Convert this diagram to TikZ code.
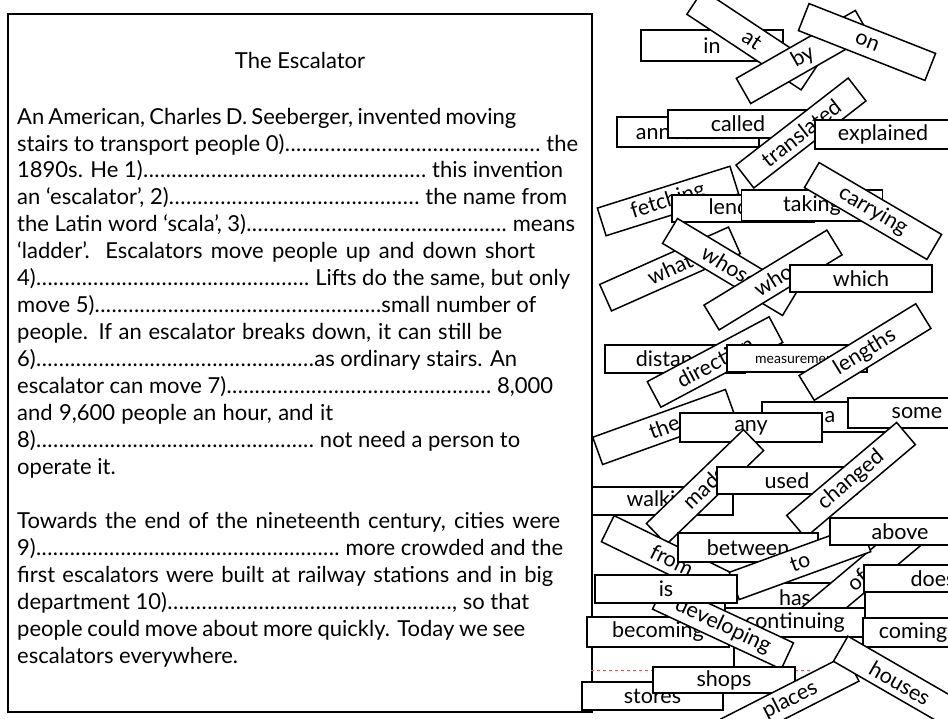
\documentclass[tikz,border=0pt]{standalone}
\usepackage{fontspec}
\setmainfont{Lato}
\newcommand\bodyfont{\fontsize{22}{26}\selectfont}
\newcommand\dts{\xleaders\hbox to 5.6pt{\hss.\hss}\hfill}
\newcommand\tline[4]{\node[anchor=base west, inner sep=0pt, font=\bodyfont] (#1) at (17,-#2) {\hbox to #3pt{#4}};}
\begin{document}
\begin{tikzpicture}[x=1pt,y=1pt,
  card/.style={draw=black, line width=1.5pt, fill=white, minimum width=140pt,
    minimum height=29pt, inner sep=0pt, font=\fontsize{21.5}{24}\selectfont}]
\useasboundingbox (0,0) rectangle (948,-718);
\fill[white] (0,0) rectangle (948,-718);
% text box
\draw[line width=1.5pt] (8,-14) rectangle (592,-712);
\node[font=\bodyfont, anchor=base] (title) at (300,-68) {The Escalator};
\tline{l1}{124}{499}{An American, Charles D. Seeberger, invented moving}
\tline{l2}{151}{561}{stairs to transport people 0)\dts\ the}
\tline{l3}{177.9}{546}{1890s. He 1)\dts\ this invention}
\tline{l4}{204.85}{550}{an ‘escalator’, 2)\dts\ the name from}
\tline{l5}{231.8}{558}{the Latin word ‘scala’, 3)\dts\ means}
\tline{l6}{258.75}{518}{‘ladder’. Escalators move people up and down short}
\tline{l7}{285.7}{553}{4)\dts\ Lifts do the same, but only}
\tline{l8}{312.65}{519}{move 5)\dts small number of}
\tline{l9}{339.6}{485}{people. If an escalator breaks down, it can still be}
\tline{l10}{366.55}{500}{6)\dts as ordinary stairs. An}
\tline{l11}{393.5}{536}{escalator can move 7)\dts\ 8,000}
\tline{l12}{420.45}{316}{and 9,600 people an hour, and it}
\tline{l13}{447.4}{503}{8)\dts\ not need a person to}
\node[anchor=base west, inner sep=0pt, font=\bodyfont] (l14) at (17,-474.35) {operate it.};
\tline{l15}{528.25}{543}{Towards the end of the nineteenth century, cities were}
\tline{l16}{555.2}{546}{9)\dts\ more crowded and the}
\tline{l17}{582.15}{536}{first escalators were built at railway stations and in big}
\tline{l18}{609.1}{512}{department 10)\dts, so that}
\tline{l19}{636.05}{508}{people could move about more quickly. Today we see}
\node[anchor=base west, inner sep=0pt, font=\bodyfont] (l20) at (17,-663) {escalators everywhere.};
% cards
\node[card, minimum width=142pt, minimum height=31pt] (c-in) at (712,-45.5) {in};
\node[card, rotate=-33.5, minimum width=137pt] (c-at) at (752,-40) {at};
\node[card, rotate=29.7, minimum width=137pt] (c-by) at (803,-57) {by};
\node[card, rotate=-21.5, minimum width=136pt] (c-on) at (867,-42) {on};
\node[card, minimum width=142pt, minimum height=30pt] (c-ann) at (688,-132) {announced};
\node[card, minimum height=28pt] (c-called) at (738,-124) {called};
\node[card, rotate=37.8, minimum width=142pt] (c-transl) at (801,-133) {translated};
\node[card, minimum width=136pt] (c-expl) at (883,-134.5) {explained};
\node[card, rotate=17.5, minimum width=139pt] (c-fetch) at (668,-201) {fetching};
\node[card, minimum width=142pt, minimum height=27pt] (c-lend) at (743,-208.5) {lending};
\node[card, minimum width=141pt, minimum height=31pt] (c-taking) at (812,-205.5) {taking};
\node[card, rotate=-30.4, minimum width=142pt] (c-carry) at (873,-211) {carrying};
\node[card, rotate=24, minimum width=141pt] (c-what) at (670,-269) {what};
\node[card, rotate=-31, minimum width=140pt] (c-whose) at (730,-267) {whose};
\node[card, rotate=31.4, minimum width=144pt] (c-who) at (773,-280) {who};
\node[card, minimum width=142pt, minimum height=27pt] (c-which) at (861,-278.5) {which};
\node[card, minimum height=28pt] (c-dist) at (675,-359) {distance};
\node[card, rotate=28, minimum width=138pt] (c-dir) at (715,-362) {direction};
\node[card, minimum height=27pt, font=\fontsize{14}{16}\selectfont] (c-meas) at (797,-358.5) {measurement};
\node[card, rotate=31.6, minimum width=137pt] (c-len) at (865,-352) {lengths};
\node[card, rotate=19.8, minimum width=141pt] (c-the) at (664,-427) {the};
\node[card, minimum width=136pt, minimum height=30pt] (c-a) at (830,-417) {a};
\node[card, minimum width=142pt] (c-any) at (751,-427.5) {any};
\node[card, minimum width=138pt, minimum height=30pt] (c-some) at (917,-413) {some};
\node[card, minimum width=141pt, minimum height=28pt] (c-walk) at (662.5,-501) {walking};
\node[card, rotate=44, minimum width=135pt] (c-made) at (705,-487) {made};
\node[card, minimum height=27pt] (c-used) at (787,-480.5) {used};
\node[card, rotate=40.2, minimum width=144pt] (c-changed) at (851,-480) {changed};
\node[card, rotate=-26, minimum width=143pt] (c-from) at (672,-560) {from};
\node[card] (c-between) at (748,-547.5) {between};
\node[card] (c-has) at (795,-597.5) {has};
\node[card, rotate=40] (c-of) at (857,-580) {of};
\node[card, rotate=20] (c-to) at (800,-562) {to};
\node[card, minimum height=27pt] (c-above) at (900,-531.5) {above};
\node[card, minimum width=138pt, minimum height=27pt] (c-does) at (933,-578.5) {does};
\node[card, minimum width=142pt, minimum height=43pt] (c-blank) at (663,-661.5) {};
\draw[red!70, dashed, line width=0.6pt] (c-blank.west |- 0,-670) -- (813,-670);
\node[card, minimum width=142pt, minimum height=30pt] (c-becoming) at (658,-632) {becoming};
\node[card] (c-cont) at (795,-622.5) {continuing};
\node[card, minimum width=100pt] (c-coming) at (913,-632.5) {coming};
\node[card, rotate=-25, minimum width=142pt] (c-dev) at (723,-626) {developing};
\node[card, minimum width=142pt, minimum height=28pt] (c-is) at (666,-589) {is};
\node[card, minimum width=141pt, minimum height=28pt] (c-stores) at (652.5,-696) {stores};
\node[card, minimum width=142pt, minimum height=26pt] (c-shops) at (724,-680) {shops};
\node[card, rotate=27] (c-places) at (790,-700) {places};
\node[card, rotate=-30, minimum width=137pt] (c-houses) at (900,-683) {houses};
\end{tikzpicture}
\end{document}
